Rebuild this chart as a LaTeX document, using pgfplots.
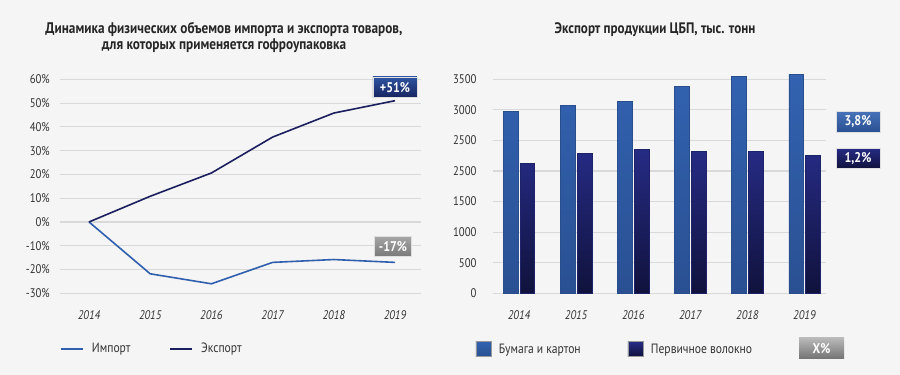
\documentclass[border=0pt]{standalone}
\usepackage{pgfplots}
\pgfplotsset{compat=1.18}
\usepackage{fontspec}
\setmainfont{PT Sans}[FakeStretch=0.86]

\definecolor{bg}{HTML}{F5F5F5}
\definecolor{gridc}{HTML}{D9D9D9}
\definecolor{txt}{HTML}{333333}
\definecolor{imp}{HTML}{2F5FAE}
\definecolor{exp}{HTML}{1B1F5E}
\definecolor{paperTop}{HTML}{3262B0}
\definecolor{paperBot}{HTML}{2A5092}
\definecolor{fibTop}{HTML}{262B84}
\definecolor{fibBot}{HTML}{10123C}
\definecolor{tagTop}{HTML}{2F54A0}
\definecolor{tagBot}{HTML}{16245F}

% growth of physical import/export volumes, % vs 2014
\pgfplotstableread{
x  imp   exp
0   0     0
1  -21.8  10.8
2  -26    20.6
3  -17    35.7
4  -15.8  45.8
5  -17    51
}\growth

% export of pulp and paper products, thousand tonnes
\pgfplotstableread{
x  paper  fibre
0  2970   2120
1  3068   2290
2  3134   2355
3  3379   2322
4  3549   2322
5  3582   2251
}\exports

\tikzset{
  tagbox/.style={text=white, font=\bfseries\fontsize{14}{14}\selectfont,
    minimum width=44pt, minimum height=20.5pt, inner sep=0pt, draw=white!75!gray, line width=0.6pt},
}

\begin{document}
\begin{tikzpicture}[x=1pt,y=1pt]
\path[use as bounding box, fill=bg] (0,0) rectangle (900,375);

% titles
\node[font=\bfseries\fontsize{15.4}{16}\selectfont, text=black!85, align=center]
  at (224,337.5) {Динамика физических объемов импорта и экспорта товаров,\\для которых применяется гофроупаковка};
\node[font=\bfseries\fontsize{15.2}{16}\selectfont, text=black!85]
  at (655,345) {Экспорт продукции ЦБП, тыс. тонн};

% left: line chart
\begin{axis}[
  at={(60pt,81.7pt)}, anchor=south west,
  scale only axis, width=361pt, height=214pt,
  clip=false,
  xmin=-0.474, xmax=5.425, ymin=-30, ymax=60,
  axis line style={draw=none},
  major tick length=0pt,
  ytick={-30,-20,...,60},
  yticklabel={\pgfmathprintnumber{\tick}\%},
  /pgf/number format/assume math mode=true,
  xtick={0,...,5}, xticklabels={2014,2015,2016,2017,2018,2019},
  ymajorgrids, major grid style={gridc, line width=1.1pt},
  yticklabel style={font=\fontsize{12.5}{13}\selectfont, text=txt, anchor=east, inner sep=0pt, xshift=-10pt},
  xticklabel style={font=\itshape\fontsize{12.5}{13}\selectfont, text=txt, anchor=center, inner sep=0pt, yshift=-22pt},
  legend image code/.code={\draw[#1, line width=2pt] (0pt,0pt) -- (21.7pt,0pt);},
  legend style={at={(0,-0.259)}, anchor=west, draw=none, fill=none, legend columns=2,
    inner sep=0pt, font=\fontsize{13.5}{14}\selectfont, text=txt,
    /tikz/every odd column/.append style={column sep=6pt},
    /tikz/every even column/.append style={column sep=37pt}},
]
\addplot[imp, line width=1.6pt] table[x=x, y=imp] {\growth};
\addlegendentry{Импорт}
\addplot[exp, line width=1.6pt] table[x=x, y=exp] {\growth};
\addlegendentry{Экспорт}
\node[tagbox, top color=tagTop, bottom color=tagBot] at (axis cs:5,51) [yshift=13.5pt] {+51\%};
\node[tagbox, minimum width=37pt, top color=gray!70, bottom color=gray!95!black] at (axis cs:5,-17) [yshift=16pt, xshift=-2pt] {-17\%};
\end{axis}

% right: bar chart
\begin{axis}[
  at={(492.7pt,81.7pt)}, anchor=south west,
  scale only axis, width=333pt, height=214pt,
  clip=false,
  ybar=2.3pt, bar width=14.5pt,
  xmin=-0.462, xmax=5.373, ymin=0, ymax=3500,
  axis line style={draw=none},
  major tick length=0pt,
  ytick={0,500,...,3500},
  yticklabels={0,500,1000,1500,2500,2500,3000,3500},
  xtick={0,...,5}, xticklabels={2014,2015,2016,2017,2018,2019},
  ymajorgrids, major grid style={gridc, line width=1.1pt},
  yticklabel style={font=\fontsize{12.5}{13}\selectfont, text=txt, anchor=east, inner sep=0pt, xshift=-16pt},
  xticklabel style={font=\itshape\fontsize{12.5}{13}\selectfont, text=txt, anchor=center, inner sep=0pt, yshift=-22pt},
  legend image code/.code={\path[#1, draw=black!40, line width=0.5pt] (0pt,-7.5pt) rectangle (15.7pt,7.5pt);},
  legend style={at={(-0.052,-0.261)}, anchor=west, draw=none, fill=none, legend columns=2,
    inner sep=0pt, font=\fontsize{13.5}{14}\selectfont, text=txt,
    /tikz/every odd column/.append style={column sep=5pt},
    /tikz/every even column/.append style={column sep=45pt}},
]
\addplot[draw=paperTop!80!black, line width=0.5pt, top color=paperTop, bottom color=paperBot] table[x=x, y=paper] {\exports};
\addlegendentry{Бумага и картон}
\addplot[draw=fibTop!80!black, line width=0.5pt, top color=fibTop, bottom color=fibBot] table[x=x, y=fibre] {\exports};
\addlegendentry{Первичное волокно}
\end{axis}

% growth tags to the right of the bars and the legend key
\node[tagbox, top color=paperTop!90!white, bottom color=paperBot] at (858,253) {3,8\%};
\node[tagbox, top color=fibTop, bottom color=fibBot] at (858,216.7) {1,2\%};
\node[tagbox, minimum width=45pt, minimum height=21pt, top color=gray!55, bottom color=gray!90!black, draw=none] at (821.5,26.5) {X\%};
\end{tikzpicture}
\end{document}
